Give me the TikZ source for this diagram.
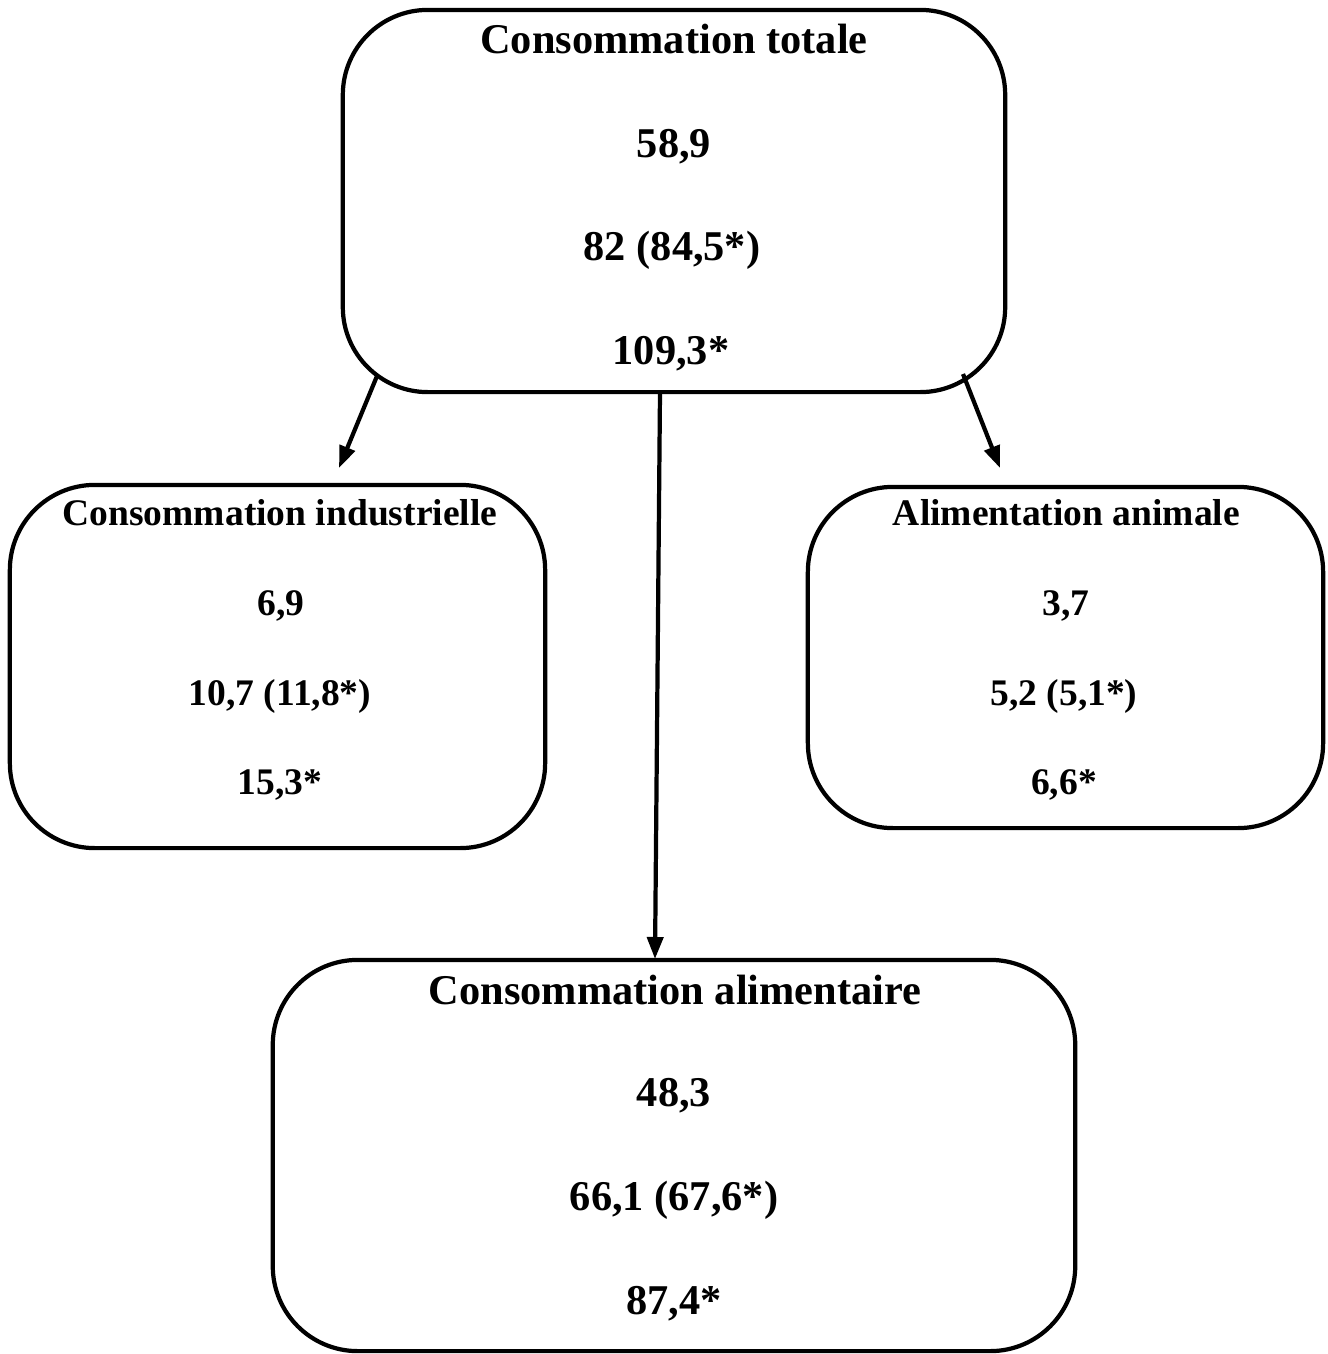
\documentclass[tikz,border=0pt]{standalone}
\usepackage{fontspec}
\setmainfont{Liberation Serif}
\usetikzlibrary{arrows.meta}
\begin{document}
\begin{tikzpicture}[x=0.01cm,y=-0.01cm,
  box/.style={draw, line width=1.2pt, rounded corners=0.85cm, inner sep=0pt},
  big/.style={anchor=base, inner sep=0pt, font=\fontsize{12.05}{14}\selectfont\bfseries},
  small/.style={anchor=base, inner sep=0pt, font=\fontsize{10.67}{13}\selectfont\bfseries},
  conn/.style={line width=1.2pt, -{Triangle[length=0.22cm,width=0.16cm]}}]
\useasboundingbox (0,0) rectangle (1328,1354);
% boxes
\node[box, minimum width=6.62cm, minimum height=3.82cm] (tot) at (674,201) {};
\node[box, minimum width=5.35cm, minimum height=3.63cm] (ind) at (277.5,666.5) {};
\node[box, minimum width=5.15cm, minimum height=3.41cm] (ani) at (1065.5,657.5) {};
\node[box, minimum width=8.02cm, minimum height=3.91cm] (ali) at (674,1155.5) {};
% texts
\node[big] (t0) at (674,53) {Consommation totale};
\node[big] (t1) at (674,157) {58,9};
\node[big] (t2) at (672,260) {82 (84,5*)};
\node[big] (t3) at (671,364) {109,3*};
\node[small] (i0) at (280,525) {Consommation industrielle};
\node[small] (i1) at (281,615) {6,9};
\node[small] (i2) at (280,705) {10,7 (11,8*)};
\node[small] (i3) at (280,794) {15,3*};
\node[small] (a0) at (1066.5,525) {Alimentation animale};
\node[small] (a1) at (1066,615) {3,7};
\node[small] (a2) at (1064,705) {5,2 (5,1*)};
\node[small] (a3) at (1064,794) {6,6*};
\node[big] (b0) at (675,1004) {Consommation alimentaire};
\node[big] (b1) at (674,1106) {48,3};
\node[big] (b2) at (674,1210) {66,1 (67,6*)};
\node[big] (b3) at (674,1314) {87,4*};
% connector ends
\coordinate (sL) at (377,376);
\coordinate (eL) at (339,468);
\coordinate (sR) at (963,374);
\coordinate (eR) at (1000,468);
\coordinate (sC) at (660,392);
\coordinate (eC) at (655,959);
\draw[conn] (sL) -- (eL);
\draw[conn] (sR) -- (eR);
\draw[conn] (sC) -- (eC);
\end{tikzpicture}
\end{document}
